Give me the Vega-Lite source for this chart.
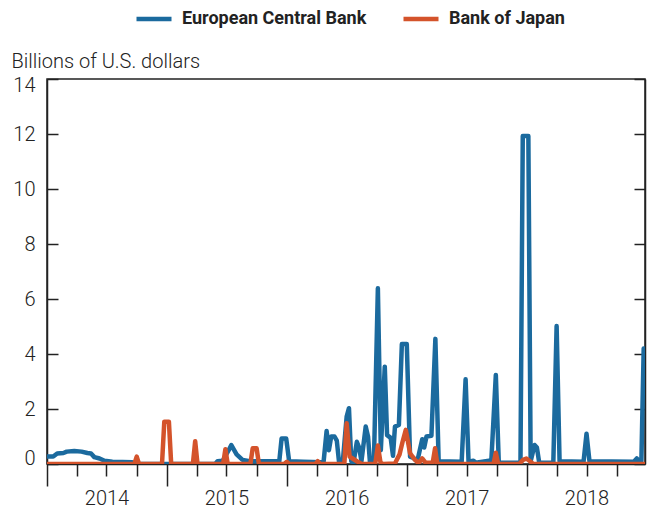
{
  "$schema": "https://vega.github.io/schema/vega-lite/v6.json",
  "width": 598,
  "height": 385,
  "autosize": {"type": "none"},
  "padding": {"left": 47, "top": 79, "right": 6, "bottom": 46},
  "background": "white",
  "config": {
    "view": {"stroke": "#222", "strokeWidth": 1.5},
    "font": "Roboto",
    "axis": {"domainColor": "#222", "domainWidth": 1.5, "tickColor": "#222", "tickWidth": 1.5, "labelColor": "#222", "labelFont": "Roboto", "labelFontSize": 20, "labelFontWeight": 300, "grid": false}
  },
  "data": {"values": [
    {"date": "2014-01-01", "series": "European Central Bank", "value": 0.27},
    {"date": "2014-01-20", "series": "European Central Bank", "value": 0.27},
    {"date": "2014-02-01", "series": "European Central Bank", "value": 0.38},
    {"date": "2014-02-20", "series": "European Central Bank", "value": 0.4},
    {"date": "2014-03-02", "series": "European Central Bank", "value": 0.45},
    {"date": "2014-03-25", "series": "European Central Bank", "value": 0.47},
    {"date": "2014-04-16", "series": "European Central Bank", "value": 0.45},
    {"date": "2014-05-04", "series": "European Central Bank", "value": 0.4},
    {"date": "2014-05-15", "series": "European Central Bank", "value": 0.38},
    {"date": "2014-05-25", "series": "European Central Bank", "value": 0.25},
    {"date": "2014-06-10", "series": "European Central Bank", "value": 0.2},
    {"date": "2014-06-25", "series": "European Central Bank", "value": 0.12},
    {"date": "2014-07-19", "series": "European Central Bank", "value": 0.08},
    {"date": "2014-09-18", "series": "European Central Bank", "value": 0.06},
    {"date": "2014-10-10", "series": "European Central Bank", "value": 0},
    {"date": "2015-05-28", "series": "European Central Bank", "value": 0},
    {"date": "2015-06-04", "series": "European Central Bank", "value": 0.1},
    {"date": "2015-06-20", "series": "European Central Bank", "value": 0.12},
    {"date": "2015-07-08", "series": "European Central Bank", "value": 0.5},
    {"date": "2015-07-16", "series": "European Central Bank", "value": 0.69},
    {"date": "2015-08-01", "series": "European Central Bank", "value": 0.35},
    {"date": "2015-08-19", "series": "European Central Bank", "value": 0.15},
    {"date": "2015-09-10", "series": "European Central Bank", "value": 0.1},
    {"date": "2015-12-09", "series": "European Central Bank", "value": 0.1},
    {"date": "2015-12-16", "series": "European Central Bank", "value": 0.93},
    {"date": "2015-12-30", "series": "European Central Bank", "value": 0.93},
    {"date": "2016-01-08", "series": "European Central Bank", "value": 0.1},
    {"date": "2016-02-19", "series": "European Central Bank", "value": 0.08},
    {"date": "2016-04-15", "series": "European Central Bank", "value": 0.06},
    {"date": "2016-04-22", "series": "European Central Bank", "value": 0.1},
    {"date": "2016-05-01", "series": "European Central Bank", "value": 1.2},
    {"date": "2016-05-08", "series": "European Central Bank", "value": 0.5},
    {"date": "2016-05-15", "series": "European Central Bank", "value": 1.0},
    {"date": "2016-05-25", "series": "European Central Bank", "value": 1.0},
    {"date": "2016-06-01", "series": "European Central Bank", "value": 0.85},
    {"date": "2016-06-08", "series": "European Central Bank", "value": 0.05},
    {"date": "2016-06-19", "series": "European Central Bank", "value": 0.05},
    {"date": "2016-07-01", "series": "European Central Bank", "value": 1.72},
    {"date": "2016-07-08", "series": "European Central Bank", "value": 2.03},
    {"date": "2016-07-15", "series": "European Central Bank", "value": 0.1},
    {"date": "2016-07-22", "series": "European Central Bank", "value": 0.05},
    {"date": "2016-08-01", "series": "European Central Bank", "value": 0.81},
    {"date": "2016-08-08", "series": "European Central Bank", "value": 0.6},
    {"date": "2016-08-15", "series": "European Central Bank", "value": 0.1},
    {"date": "2016-08-28", "series": "European Central Bank", "value": 1.36},
    {"date": "2016-09-04", "series": "European Central Bank", "value": 1.0},
    {"date": "2016-09-10", "series": "European Central Bank", "value": 0.05},
    {"date": "2016-09-22", "series": "European Central Bank", "value": 0.1},
    {"date": "2016-10-04", "series": "European Central Bank", "value": 6.39},
    {"date": "2016-10-13", "series": "European Central Bank", "value": 0.5},
    {"date": "2016-10-25", "series": "European Central Bank", "value": 3.54},
    {"date": "2016-11-01", "series": "European Central Bank", "value": 1.05},
    {"date": "2016-11-12", "series": "European Central Bank", "value": 0.95},
    {"date": "2016-11-19", "series": "European Central Bank", "value": 0.3},
    {"date": "2016-11-25", "series": "European Central Bank", "value": 1.36},
    {"date": "2016-12-07", "series": "European Central Bank", "value": 1.42},
    {"date": "2016-12-16", "series": "European Central Bank", "value": 4.36},
    {"date": "2016-12-31", "series": "European Central Bank", "value": 4.36},
    {"date": "2017-01-10", "series": "European Central Bank", "value": 0.27},
    {"date": "2017-01-20", "series": "European Central Bank", "value": 0.22},
    {"date": "2017-02-01", "series": "European Central Bank", "value": 0.1},
    {"date": "2017-02-16", "series": "European Central Bank", "value": 0.9},
    {"date": "2017-02-22", "series": "European Central Bank", "value": 0.6},
    {"date": "2017-03-01", "series": "European Central Bank", "value": 1.0},
    {"date": "2017-03-16", "series": "European Central Bank", "value": 1.03},
    {"date": "2017-03-28", "series": "European Central Bank", "value": 4.55},
    {"date": "2017-04-07", "series": "European Central Bank", "value": 0.1},
    {"date": "2017-06-16", "series": "European Central Bank", "value": 0.08},
    {"date": "2017-06-28", "series": "European Central Bank", "value": 3.08},
    {"date": "2017-07-07", "series": "European Central Bank", "value": 0.08},
    {"date": "2017-07-22", "series": "European Central Bank", "value": 0.12},
    {"date": "2017-07-29", "series": "European Central Bank", "value": 0.05},
    {"date": "2017-09-07", "series": "European Central Bank", "value": 0.12},
    {"date": "2017-09-14", "series": "European Central Bank", "value": 0.05},
    {"date": "2017-09-28", "series": "European Central Bank", "value": 3.24},
    {"date": "2017-10-07", "series": "European Central Bank", "value": 0.05},
    {"date": "2017-12-12", "series": "European Central Bank", "value": 0.05},
    {"date": "2017-12-19", "series": "European Central Bank", "value": 11.93},
    {"date": "2018-01-05", "series": "European Central Bank", "value": 11.93},
    {"date": "2018-01-12", "series": "European Central Bank", "value": 0.1},
    {"date": "2018-01-24", "series": "European Central Bank", "value": 0.69},
    {"date": "2018-01-31", "series": "European Central Bank", "value": 0.6},
    {"date": "2018-02-07", "series": "European Central Bank", "value": 0.05},
    {"date": "2018-03-22", "series": "European Central Bank", "value": 0.05},
    {"date": "2018-04-01", "series": "European Central Bank", "value": 5.02},
    {"date": "2018-04-10", "series": "European Central Bank", "value": 0.1},
    {"date": "2018-06-22", "series": "European Central Bank", "value": 0.08},
    {"date": "2018-07-01", "series": "European Central Bank", "value": 1.1},
    {"date": "2018-07-10", "series": "European Central Bank", "value": 0.1},
    {"date": "2018-11-22", "series": "European Central Bank", "value": 0.08},
    {"date": "2018-12-01", "series": "European Central Bank", "value": 0.2},
    {"date": "2018-12-08", "series": "European Central Bank", "value": 0.1},
    {"date": "2018-12-15", "series": "European Central Bank", "value": 0.1},
    {"date": "2018-12-22", "series": "European Central Bank", "value": 4.2},
    {"date": "2014-01-01", "series": "Bank of Japan", "value": 0},
    {"date": "2014-09-24", "series": "Bank of Japan", "value": 0},
    {"date": "2014-10-01", "series": "Bank of Japan", "value": 0.27},
    {"date": "2014-10-08", "series": "Bank of Japan", "value": 0},
    {"date": "2014-12-17", "series": "Bank of Japan", "value": 0},
    {"date": "2014-12-24", "series": "Bank of Japan", "value": 1.54},
    {"date": "2015-01-07", "series": "Bank of Japan", "value": 1.54},
    {"date": "2015-01-14", "series": "Bank of Japan", "value": 0},
    {"date": "2015-03-21", "series": "Bank of Japan", "value": 0},
    {"date": "2015-03-28", "series": "Bank of Japan", "value": 0.83},
    {"date": "2015-04-04", "series": "Bank of Japan", "value": 0},
    {"date": "2015-06-21", "series": "Bank of Japan", "value": 0},
    {"date": "2015-06-28", "series": "Bank of Japan", "value": 0.54},
    {"date": "2015-07-05", "series": "Bank of Japan", "value": 0},
    {"date": "2015-09-12", "series": "Bank of Japan", "value": 0},
    {"date": "2015-09-19", "series": "Bank of Japan", "value": 0.57},
    {"date": "2015-10-01", "series": "Bank of Japan", "value": 0.57},
    {"date": "2015-10-08", "series": "Bank of Japan", "value": 0},
    {"date": "2015-12-24", "series": "Bank of Japan", "value": 0},
    {"date": "2016-01-01", "series": "Bank of Japan", "value": 0.08},
    {"date": "2016-01-08", "series": "Bank of Japan", "value": 0},
    {"date": "2016-03-28", "series": "Bank of Japan", "value": 0},
    {"date": "2016-04-04", "series": "Bank of Japan", "value": 0.1},
    {"date": "2016-04-11", "series": "Bank of Japan", "value": 0},
    {"date": "2016-06-24", "series": "Bank of Japan", "value": 0},
    {"date": "2016-07-01", "series": "Bank of Japan", "value": 1.48},
    {"date": "2016-07-10", "series": "Bank of Japan", "value": 0.27},
    {"date": "2016-07-19", "series": "Bank of Japan", "value": 0.2},
    {"date": "2016-08-01", "series": "Bank of Japan", "value": 0.1},
    {"date": "2016-08-16", "series": "Bank of Japan", "value": 0},
    {"date": "2016-09-26", "series": "Bank of Japan", "value": 0},
    {"date": "2016-10-04", "series": "Bank of Japan", "value": 0.67},
    {"date": "2016-10-12", "series": "Bank of Japan", "value": 0.05},
    {"date": "2016-10-20", "series": "Bank of Japan", "value": 0},
    {"date": "2016-11-25", "series": "Bank of Japan", "value": 0.02},
    {"date": "2016-12-09", "series": "Bank of Japan", "value": 0.35},
    {"date": "2016-12-18", "series": "Bank of Japan", "value": 0.8},
    {"date": "2016-12-28", "series": "Bank of Japan", "value": 1.24},
    {"date": "2017-01-10", "series": "Bank of Japan", "value": 0.39},
    {"date": "2017-01-25", "series": "Bank of Japan", "value": 0.15},
    {"date": "2017-02-05", "series": "Bank of Japan", "value": 0.03},
    {"date": "2017-02-16", "series": "Bank of Japan", "value": 0.2},
    {"date": "2017-02-26", "series": "Bank of Japan", "value": 0.05},
    {"date": "2017-03-20", "series": "Bank of Japan", "value": 0.05},
    {"date": "2017-03-27", "series": "Bank of Japan", "value": 0.57},
    {"date": "2017-04-03", "series": "Bank of Japan", "value": 0},
    {"date": "2017-09-21", "series": "Bank of Japan", "value": 0},
    {"date": "2017-09-28", "series": "Bank of Japan", "value": 0.41},
    {"date": "2017-10-05", "series": "Bank of Japan", "value": 0},
    {"date": "2017-12-08", "series": "Bank of Japan", "value": 0},
    {"date": "2017-12-20", "series": "Bank of Japan", "value": 0.15},
    {"date": "2017-12-30", "series": "Bank of Japan", "value": 0.2},
    {"date": "2018-01-10", "series": "Bank of Japan", "value": 0.1},
    {"date": "2018-01-20", "series": "Bank of Japan", "value": 0},
    {"date": "2018-12-25", "series": "Bank of Japan", "value": 0}
  ]},
  "encoding": {
    "x": {"field": "date", "type": "temporal",
      "scale": {"type": "utc", "domain": [{"year": 2014, "month": 1, "date": 1, "utc": true}, {"year": 2018, "month": 12, "date": 26, "utc": true}]}},
    "y": {"field": "value", "type": "quantitative", "scale": {"domain": [0, 14], "nice": false, "zero": true}},
    "color": {"field": "series", "type": "nominal",
      "scale": {"domain": ["European Central Bank", "Bank of Japan"], "range": ["#1b6a9e", "#d4532b"]},
      "legend": {"title": null, "orient": "none", "direction": "horizontal", "legendX": 87, "legendY": -80,
        "symbolType": "stroke", "symbolSize": 1225, "symbolStrokeWidth": 4.5, "labelOffset": 8, "columnPadding": 27,
        "labelLimit": 0, "labelFont": "Roboto", "labelFontSize": 18, "labelFontWeight": "bold", "labelColor": "#222"}}
  },
  "layer": [
    {
      "transform": [{"filter": "datum.series == 'European Central Bank'"}],
      "mark": {"type": "line", "strokeWidth": 4.5, "strokeJoin": "round", "strokeCap": "round", "clip": true},
      "encoding": {
        "x": {"field": "date", "type": "temporal",
          "axis": {"title": null, "orient": "bottom", "tickCount": {"interval": "month", "step": 3},
            "tickSize": {"condition": {"test": "utcmonth(datum.value) == 0", "value": 22}, "value": 12},
            "labelExpr": "utcmonth(datum.value) == 6 ? utcFormat(datum.value, '%Y') : ''",
            "labelOverlap": false, "labelFlush": false, "labelBound": false, "labelPadding": 12, "labelBaseline": "top"}},
        "y": {"field": "value", "type": "quantitative",
          "axis": {"orient": "left", "values": [0, 2, 4, 6, 8, 10, 12, 14], "tickSize": -11, "labelPadding": 23, "labelFlush": true, "labelFlushOffset": 4,
            "title": "Billions of U.S. dollars", "titleAngle": 0, "titleAlign": "left", "titleBaseline": "alphabetic",
            "titleX": -36, "titleY": -12, "titleFont": "Roboto", "titleFontSize": 20, "titleFontWeight": 300, "titleColor": "#222"}}
      }
    },
    {
      "transform": [{"filter": "datum.series == 'Bank of Japan'"}],
      "mark": {"type": "line", "strokeWidth": 4.5, "strokeJoin": "round", "strokeCap": "round", "clip": true},
      "encoding": {
        "x": {"field": "date", "type": "temporal", "axis": null},
        "y": {"field": "value", "type": "quantitative",
          "axis": {"orient": "right", "values": [0, 2, 4, 6, 8, 10, 12, 14], "tickSize": -11, "labels": false, "title": null}}
      }
    }
  ],
  "resolve": {"axis": {"x": "independent", "y": "independent"}}
}
